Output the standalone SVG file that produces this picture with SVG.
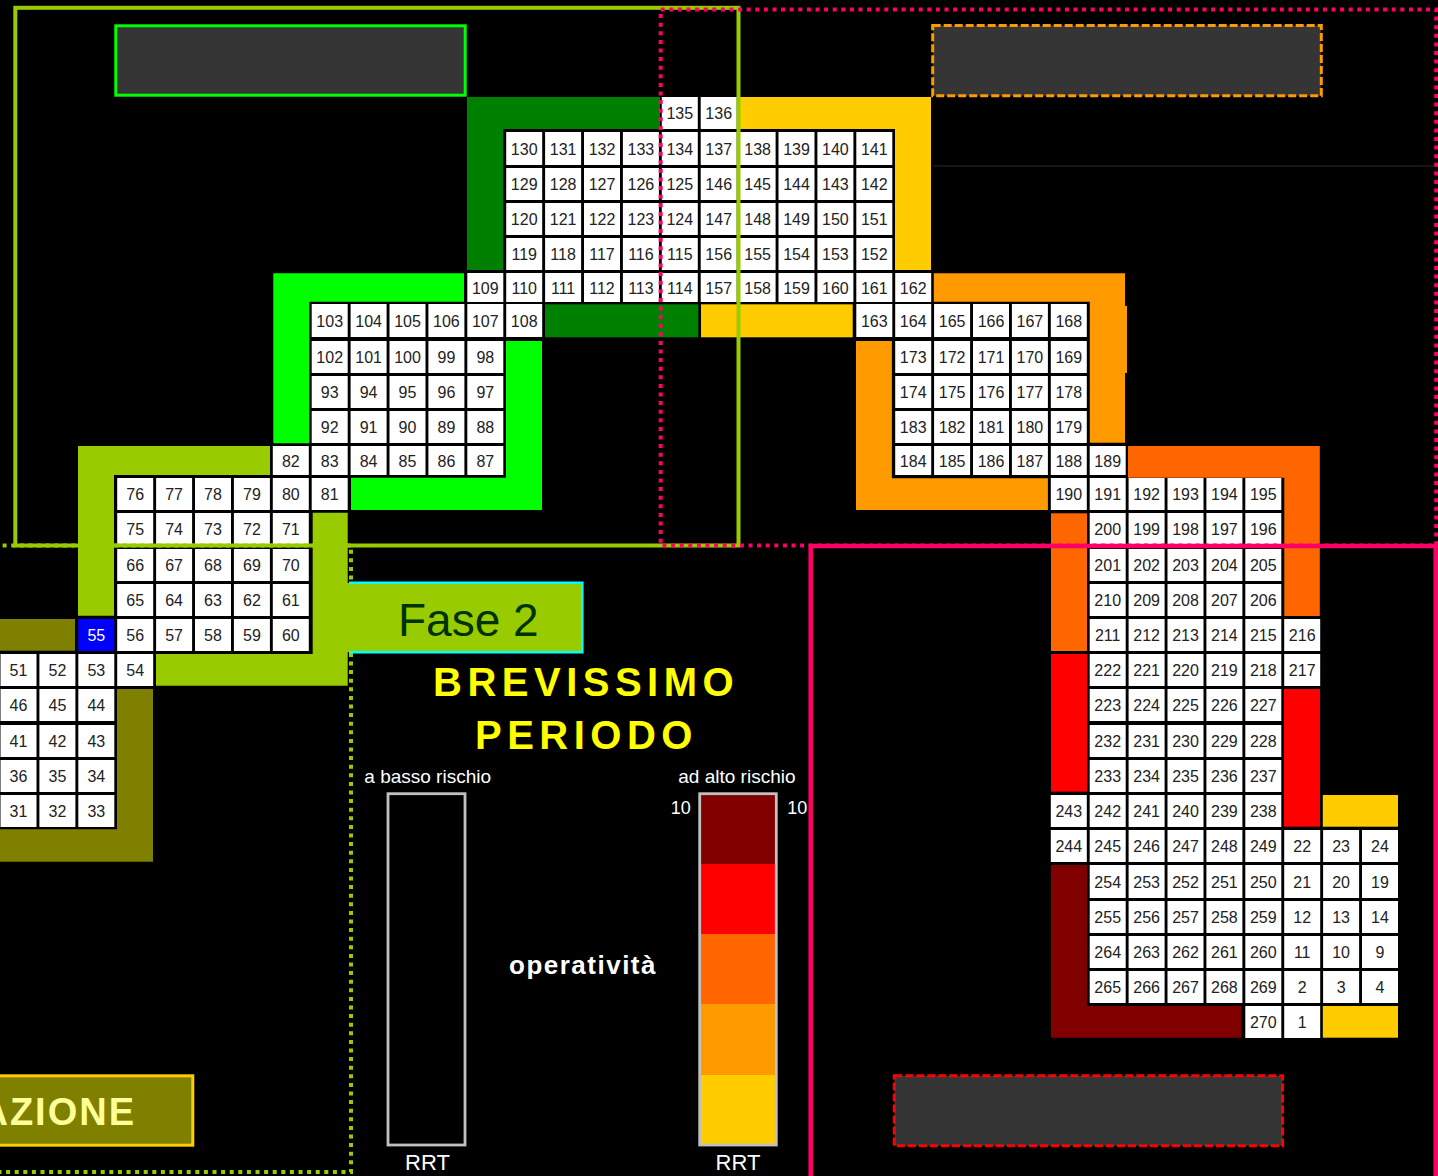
<svg xmlns="http://www.w3.org/2000/svg" width="1438" height="1176" viewBox="0 0 1438 1176">
<style>
.cells rect{fill:#fff}
.cells text{font-family:"Liberation Sans Narrow","Liberation Sans",Arial,sans-serif;font-size:16px;fill:#222;text-anchor:middle}
.lbl{font-family:"Liberation Sans",Arial,sans-serif;fill:#fff}
.big{font-family:"Liberation Sans",Arial,sans-serif;font-weight:bold;font-size:40px;fill:#FFFF00;letter-spacing:5.5px}
.dgreen{fill:#008000}.yel{fill:#FFCC00}.lgreen{fill:#00FF00}.ygreen{fill:#99CC00}.olive{fill:#808000}.orange{fill:#FF9900}.dorange{fill:#FF6600}.red{fill:#FF0000}.dred{fill:#800000}
.dot{fill:none;stroke-width:4;stroke-dasharray:4 4.6}
.dash{fill:#353535;stroke-width:3;stroke-dasharray:8 3}
</style>
<rect width="1438" height="1176" fill="#000"/>
<line x1="933" y1="166" x2="1438" y2="166" stroke="#1c1c1c" stroke-width="1.5"/>

<g id="connectors">
<path class="dgreen" d="M467 97H660V129H503.3V270H467Z"/>
<rect class="dgreen" x="545" y="304.3" width="153.3" height="33"/>
<path class="yel" d="M739 97H931V270H895V129H739Z"/>
<rect class="yel" x="701" y="304.3" width="151.7" height="33"/>
<path class="lgreen" d="M273.3 273.3H464V301.7H309.3V443.3H273.3Z"/>
<path class="lgreen" d="M506 341H542V510H351V477.7H506Z"/>
<path class="ygreen" d="M78 446H270V475H114V615.7H78Z"/>
<path class="ygreen" d="M312.7 512.7H347.7V685.7H156V654H312.7Z"/>
<rect class="olive" x="0" y="619" width="75" height="31.7"/>
<path class="olive" d="M117 689H153V861.7H0V829.3H117Z"/>
<path class="orange" d="M933.8 273.3H1125V442.7H1089.8V301.7H933.8Z"/>
<rect class="orange" x="1124" y="306" width="3" height="67"/>
<path class="orange" d="M856 341H891.9V478.3H1047.9V510H856Z"/>
<path class="dorange" d="M1128 446H1319.8V616H1284.3V477.7H1128Z"/>
<rect class="dorange" x="1051" y="513.3" width="36" height="137.7"/>
<rect class="red" x="1051" y="654" width="36" height="137.7"/>
<rect class="red" x="1284" y="689" width="36" height="137.7"/>
<path class="dred" d="M1051 865H1087V1006H1241.4V1037.7H1051Z"/>
<rect class="yel" x="1322.8" y="795" width="75.2" height="31.7"/>
<rect class="yel" x="1322.8" y="1006" width="75.2" height="31.7"/>
</g>

<g class="cells">
<g transform="translate(0 97)">
<g id="c135" transform="translate(661.8)"><rect width="36" height="32"/><text x="18" y="22">135</text></g>
<g id="c136" transform="translate(700.7)"><rect width="36" height="32"/><text x="18" y="22">136</text></g>
</g>
<g transform="translate(0 132)">
<g id="c130" transform="translate(506.2)"><rect width="36" height="33"/><text x="18" y="22.5">130</text></g>
<g id="c131" transform="translate(545.1)"><rect width="36" height="33"/><text x="18" y="22.5">131</text></g>
<g id="c132" transform="translate(584)"><rect width="36" height="33"/><text x="18" y="22.5">132</text></g>
<g id="c133" transform="translate(622.9)"><rect width="36" height="33"/><text x="18" y="22.5">133</text></g>
<g id="c134" transform="translate(661.8)"><rect width="36" height="33"/><text x="18" y="22.5">134</text></g>
<g id="c137" transform="translate(700.7)"><rect width="36" height="33"/><text x="18" y="22.5">137</text></g>
<g id="c138" transform="translate(739.6)"><rect width="36" height="33"/><text x="18" y="22.5">138</text></g>
<g id="c139" transform="translate(778.5)"><rect width="36" height="33"/><text x="18" y="22.5">139</text></g>
<g id="c140" transform="translate(817.4)"><rect width="36" height="33"/><text x="18" y="22.5">140</text></g>
<g id="c141" transform="translate(856.3)"><rect width="36" height="33"/><text x="18" y="22.5">141</text></g>
</g>
<g transform="translate(0 168)">
<g id="c129" transform="translate(506.2)"><rect width="36" height="32"/><text x="18" y="22">129</text></g>
<g id="c128" transform="translate(545.1)"><rect width="36" height="32"/><text x="18" y="22">128</text></g>
<g id="c127" transform="translate(584)"><rect width="36" height="32"/><text x="18" y="22">127</text></g>
<g id="c126" transform="translate(622.9)"><rect width="36" height="32"/><text x="18" y="22">126</text></g>
<g id="c125" transform="translate(661.8)"><rect width="36" height="32"/><text x="18" y="22">125</text></g>
<g id="c146" transform="translate(700.7)"><rect width="36" height="32"/><text x="18" y="22">146</text></g>
<g id="c145" transform="translate(739.6)"><rect width="36" height="32"/><text x="18" y="22">145</text></g>
<g id="c144" transform="translate(778.5)"><rect width="36" height="32"/><text x="18" y="22">144</text></g>
<g id="c143" transform="translate(817.4)"><rect width="36" height="32"/><text x="18" y="22">143</text></g>
<g id="c142" transform="translate(856.3)"><rect width="36" height="32"/><text x="18" y="22">142</text></g>
</g>
<g transform="translate(0 203)">
<g id="c120" transform="translate(506.2)"><rect width="36" height="32"/><text x="18" y="22">120</text></g>
<g id="c121" transform="translate(545.1)"><rect width="36" height="32"/><text x="18" y="22">121</text></g>
<g id="c122" transform="translate(584)"><rect width="36" height="32"/><text x="18" y="22">122</text></g>
<g id="c123" transform="translate(622.9)"><rect width="36" height="32"/><text x="18" y="22">123</text></g>
<g id="c124" transform="translate(661.8)"><rect width="36" height="32"/><text x="18" y="22">124</text></g>
<g id="c147" transform="translate(700.7)"><rect width="36" height="32"/><text x="18" y="22">147</text></g>
<g id="c148" transform="translate(739.6)"><rect width="36" height="32"/><text x="18" y="22">148</text></g>
<g id="c149" transform="translate(778.5)"><rect width="36" height="32"/><text x="18" y="22">149</text></g>
<g id="c150" transform="translate(817.4)"><rect width="36" height="32"/><text x="18" y="22">150</text></g>
<g id="c151" transform="translate(856.3)"><rect width="36" height="32"/><text x="18" y="22">151</text></g>
</g>
<g transform="translate(0 238)">
<g id="c119" transform="translate(506.2)"><rect width="36" height="32"/><text x="18" y="22">119</text></g>
<g id="c118" transform="translate(545.1)"><rect width="36" height="32"/><text x="18" y="22">118</text></g>
<g id="c117" transform="translate(584)"><rect width="36" height="32"/><text x="18" y="22">117</text></g>
<g id="c116" transform="translate(622.9)"><rect width="36" height="32"/><text x="18" y="22">116</text></g>
<g id="c115" transform="translate(661.8)"><rect width="36" height="32"/><text x="18" y="22">115</text></g>
<g id="c156" transform="translate(700.7)"><rect width="36" height="32"/><text x="18" y="22">156</text></g>
<g id="c155" transform="translate(739.6)"><rect width="36" height="32"/><text x="18" y="22">155</text></g>
<g id="c154" transform="translate(778.5)"><rect width="36" height="32"/><text x="18" y="22">154</text></g>
<g id="c153" transform="translate(817.4)"><rect width="36" height="32"/><text x="18" y="22">153</text></g>
<g id="c152" transform="translate(856.3)"><rect width="36" height="32"/><text x="18" y="22">152</text></g>
</g>
<g transform="translate(0 273)">
<g id="c109" transform="translate(467.3)"><rect width="36" height="29"/><text x="18" y="20.5">109</text></g>
<g id="c110" transform="translate(506.2)"><rect width="36" height="29"/><text x="18" y="20.5">110</text></g>
<g id="c111" transform="translate(545.1)"><rect width="36" height="29"/><text x="18" y="20.5">111</text></g>
<g id="c112" transform="translate(584)"><rect width="36" height="29"/><text x="18" y="20.5">112</text></g>
<g id="c113" transform="translate(622.9)"><rect width="36" height="29"/><text x="18" y="20.5">113</text></g>
<g id="c114" transform="translate(661.8)"><rect width="36" height="29"/><text x="18" y="20.5">114</text></g>
<g id="c157" transform="translate(700.7)"><rect width="36" height="29"/><text x="18" y="20.5">157</text></g>
<g id="c158" transform="translate(739.6)"><rect width="36" height="29"/><text x="18" y="20.5">158</text></g>
<g id="c159" transform="translate(778.5)"><rect width="36" height="29"/><text x="18" y="20.5">159</text></g>
<g id="c160" transform="translate(817.4)"><rect width="36" height="29"/><text x="18" y="20.5">160</text></g>
<g id="c161" transform="translate(856.3)"><rect width="36" height="29"/><text x="18" y="20.5">161</text></g>
<g id="c162" transform="translate(895.2)"><rect width="36" height="29"/><text x="18" y="20.5">162</text></g>
</g>
<g transform="translate(0 304)">
<g id="c103" transform="translate(311.7)"><rect width="36" height="33"/><text x="18" y="22.5">103</text></g>
<g id="c104" transform="translate(350.6)"><rect width="36" height="33"/><text x="18" y="22.5">104</text></g>
<g id="c105" transform="translate(389.5)"><rect width="36" height="33"/><text x="18" y="22.5">105</text></g>
<g id="c106" transform="translate(428.4)"><rect width="36" height="33"/><text x="18" y="22.5">106</text></g>
<g id="c107" transform="translate(467.3)"><rect width="36" height="33"/><text x="18" y="22.5">107</text></g>
<g id="c108" transform="translate(506.2)"><rect width="36" height="33"/><text x="18" y="22.5">108</text></g>
<g id="c163" transform="translate(856.3)"><rect width="36" height="33"/><text x="18" y="22.5">163</text></g>
<g id="c164" transform="translate(895.2)"><rect width="36" height="33"/><text x="18" y="22.5">164</text></g>
<g id="c165" transform="translate(934.1)"><rect width="36" height="33"/><text x="18" y="22.5">165</text></g>
<g id="c166" transform="translate(973)"><rect width="36" height="33"/><text x="18" y="22.5">166</text></g>
<g id="c167" transform="translate(1011.9)"><rect width="36" height="33"/><text x="18" y="22.5">167</text></g>
<g id="c168" transform="translate(1050.8)"><rect width="36" height="33"/><text x="18" y="22.5">168</text></g>
</g>
<g transform="translate(0 341)">
<g id="c102" transform="translate(311.7)"><rect width="36" height="32"/><text x="18" y="22">102</text></g>
<g id="c101" transform="translate(350.6)"><rect width="36" height="32"/><text x="18" y="22">101</text></g>
<g id="c100" transform="translate(389.5)"><rect width="36" height="32"/><text x="18" y="22">100</text></g>
<g id="c99" transform="translate(428.4)"><rect width="36" height="32"/><text x="18" y="22">99</text></g>
<g id="c98" transform="translate(467.3)"><rect width="36" height="32"/><text x="18" y="22">98</text></g>
<g id="c173" transform="translate(895.2)"><rect width="36" height="32"/><text x="18" y="22">173</text></g>
<g id="c172" transform="translate(934.1)"><rect width="36" height="32"/><text x="18" y="22">172</text></g>
<g id="c171" transform="translate(973)"><rect width="36" height="32"/><text x="18" y="22">171</text></g>
<g id="c170" transform="translate(1011.9)"><rect width="36" height="32"/><text x="18" y="22">170</text></g>
<g id="c169" transform="translate(1050.8)"><rect width="36" height="32"/><text x="18" y="22">169</text></g>
</g>
<g transform="translate(0 376)">
<g id="c93" transform="translate(311.7)"><rect width="36" height="32"/><text x="18" y="22">93</text></g>
<g id="c94" transform="translate(350.6)"><rect width="36" height="32"/><text x="18" y="22">94</text></g>
<g id="c95" transform="translate(389.5)"><rect width="36" height="32"/><text x="18" y="22">95</text></g>
<g id="c96" transform="translate(428.4)"><rect width="36" height="32"/><text x="18" y="22">96</text></g>
<g id="c97" transform="translate(467.3)"><rect width="36" height="32"/><text x="18" y="22">97</text></g>
<g id="c174" transform="translate(895.2)"><rect width="36" height="32"/><text x="18" y="22">174</text></g>
<g id="c175" transform="translate(934.1)"><rect width="36" height="32"/><text x="18" y="22">175</text></g>
<g id="c176" transform="translate(973)"><rect width="36" height="32"/><text x="18" y="22">176</text></g>
<g id="c177" transform="translate(1011.9)"><rect width="36" height="32"/><text x="18" y="22">177</text></g>
<g id="c178" transform="translate(1050.8)"><rect width="36" height="32"/><text x="18" y="22">178</text></g>
</g>
<g transform="translate(0 411)">
<g id="c92" transform="translate(311.7)"><rect width="36" height="32"/><text x="18" y="22">92</text></g>
<g id="c91" transform="translate(350.6)"><rect width="36" height="32"/><text x="18" y="22">91</text></g>
<g id="c90" transform="translate(389.5)"><rect width="36" height="32"/><text x="18" y="22">90</text></g>
<g id="c89" transform="translate(428.4)"><rect width="36" height="32"/><text x="18" y="22">89</text></g>
<g id="c88" transform="translate(467.3)"><rect width="36" height="32"/><text x="18" y="22">88</text></g>
<g id="c183" transform="translate(895.2)"><rect width="36" height="32"/><text x="18" y="22">183</text></g>
<g id="c182" transform="translate(934.1)"><rect width="36" height="32"/><text x="18" y="22">182</text></g>
<g id="c181" transform="translate(973)"><rect width="36" height="32"/><text x="18" y="22">181</text></g>
<g id="c180" transform="translate(1011.9)"><rect width="36" height="32"/><text x="18" y="22">180</text></g>
<g id="c179" transform="translate(1050.8)"><rect width="36" height="32"/><text x="18" y="22">179</text></g>
</g>
<g transform="translate(0 446)">
<g id="c82" transform="translate(272.8)"><rect width="36" height="29"/><text x="18" y="20.5">82</text></g>
<g id="c83" transform="translate(311.7)"><rect width="36" height="29"/><text x="18" y="20.5">83</text></g>
<g id="c84" transform="translate(350.6)"><rect width="36" height="29"/><text x="18" y="20.5">84</text></g>
<g id="c85" transform="translate(389.5)"><rect width="36" height="29"/><text x="18" y="20.5">85</text></g>
<g id="c86" transform="translate(428.4)"><rect width="36" height="29"/><text x="18" y="20.5">86</text></g>
<g id="c87" transform="translate(467.3)"><rect width="36" height="29"/><text x="18" y="20.5">87</text></g>
<g id="c184" transform="translate(895.2)"><rect width="36" height="29"/><text x="18" y="20.5">184</text></g>
<g id="c185" transform="translate(934.1)"><rect width="36" height="29"/><text x="18" y="20.5">185</text></g>
<g id="c186" transform="translate(973)"><rect width="36" height="29"/><text x="18" y="20.5">186</text></g>
<g id="c187" transform="translate(1011.9)"><rect width="36" height="29"/><text x="18" y="20.5">187</text></g>
<g id="c188" transform="translate(1050.8)"><rect width="36" height="29"/><text x="18" y="20.5">188</text></g>
<g id="c189" transform="translate(1089.7)"><rect width="36" height="29"/><text x="18" y="20.5">189</text></g>
</g>
<g transform="translate(0 478)">
<g id="c76" transform="translate(117.2)"><rect width="36" height="32"/><text x="18" y="22">76</text></g>
<g id="c77" transform="translate(156.1)"><rect width="36" height="32"/><text x="18" y="22">77</text></g>
<g id="c78" transform="translate(195)"><rect width="36" height="32"/><text x="18" y="22">78</text></g>
<g id="c79" transform="translate(233.9)"><rect width="36" height="32"/><text x="18" y="22">79</text></g>
<g id="c80" transform="translate(272.8)"><rect width="36" height="32"/><text x="18" y="22">80</text></g>
<g id="c81" transform="translate(311.7)"><rect width="36" height="32"/><text x="18" y="22">81</text></g>
<g id="c190" transform="translate(1050.8)"><rect width="36" height="32"/><text x="18" y="22">190</text></g>
<g id="c191" transform="translate(1089.7)"><rect width="36" height="32"/><text x="18" y="22">191</text></g>
<g id="c192" transform="translate(1128.6)"><rect width="36" height="32"/><text x="18" y="22">192</text></g>
<g id="c193" transform="translate(1167.5)"><rect width="36" height="32"/><text x="18" y="22">193</text></g>
<g id="c194" transform="translate(1206.4)"><rect width="36" height="32"/><text x="18" y="22">194</text></g>
<g id="c195" transform="translate(1245.3)"><rect width="36" height="32"/><text x="18" y="22">195</text></g>
</g>
<g transform="translate(0 513)">
<g id="c75" transform="translate(117.2)"><rect width="36" height="31"/><text x="18" y="21.5">75</text></g>
<g id="c74" transform="translate(156.1)"><rect width="36" height="31"/><text x="18" y="21.5">74</text></g>
<g id="c73" transform="translate(195)"><rect width="36" height="31"/><text x="18" y="21.5">73</text></g>
<g id="c72" transform="translate(233.9)"><rect width="36" height="31"/><text x="18" y="21.5">72</text></g>
<g id="c71" transform="translate(272.8)"><rect width="36" height="31"/><text x="18" y="21.5">71</text></g>
<g id="c200" transform="translate(1089.7)"><rect width="36" height="31"/><text x="18" y="21.5">200</text></g>
<g id="c199" transform="translate(1128.6)"><rect width="36" height="31"/><text x="18" y="21.5">199</text></g>
<g id="c198" transform="translate(1167.5)"><rect width="36" height="31"/><text x="18" y="21.5">198</text></g>
<g id="c197" transform="translate(1206.4)"><rect width="36" height="31"/><text x="18" y="21.5">197</text></g>
<g id="c196" transform="translate(1245.3)"><rect width="36" height="31"/><text x="18" y="21.5">196</text></g>
</g>
<g transform="translate(0 549)">
<g id="c66" transform="translate(117.2)"><rect width="36" height="32"/><text x="18" y="22">66</text></g>
<g id="c67" transform="translate(156.1)"><rect width="36" height="32"/><text x="18" y="22">67</text></g>
<g id="c68" transform="translate(195)"><rect width="36" height="32"/><text x="18" y="22">68</text></g>
<g id="c69" transform="translate(233.9)"><rect width="36" height="32"/><text x="18" y="22">69</text></g>
<g id="c70" transform="translate(272.8)"><rect width="36" height="32"/><text x="18" y="22">70</text></g>
<g id="c201" transform="translate(1089.7)"><rect width="36" height="32"/><text x="18" y="22">201</text></g>
<g id="c202" transform="translate(1128.6)"><rect width="36" height="32"/><text x="18" y="22">202</text></g>
<g id="c203" transform="translate(1167.5)"><rect width="36" height="32"/><text x="18" y="22">203</text></g>
<g id="c204" transform="translate(1206.4)"><rect width="36" height="32"/><text x="18" y="22">204</text></g>
<g id="c205" transform="translate(1245.3)"><rect width="36" height="32"/><text x="18" y="22">205</text></g>
</g>
<g transform="translate(0 584)">
<g id="c65" transform="translate(117.2)"><rect width="36" height="32"/><text x="18" y="22">65</text></g>
<g id="c64" transform="translate(156.1)"><rect width="36" height="32"/><text x="18" y="22">64</text></g>
<g id="c63" transform="translate(195)"><rect width="36" height="32"/><text x="18" y="22">63</text></g>
<g id="c62" transform="translate(233.9)"><rect width="36" height="32"/><text x="18" y="22">62</text></g>
<g id="c61" transform="translate(272.8)"><rect width="36" height="32"/><text x="18" y="22">61</text></g>
<g id="c210" transform="translate(1089.7)"><rect width="36" height="32"/><text x="18" y="22">210</text></g>
<g id="c209" transform="translate(1128.6)"><rect width="36" height="32"/><text x="18" y="22">209</text></g>
<g id="c208" transform="translate(1167.5)"><rect width="36" height="32"/><text x="18" y="22">208</text></g>
<g id="c207" transform="translate(1206.4)"><rect width="36" height="32"/><text x="18" y="22">207</text></g>
<g id="c206" transform="translate(1245.3)"><rect width="36" height="32"/><text x="18" y="22">206</text></g>
</g>
<g transform="translate(0 619)">
<g id="c55" transform="translate(78.3)"><rect width="36" height="32" style="fill:#0000FF"/><text x="18" y="22" style="fill:#fff">55</text></g>
<g id="c56" transform="translate(117.2)"><rect width="36" height="32"/><text x="18" y="22">56</text></g>
<g id="c57" transform="translate(156.1)"><rect width="36" height="32"/><text x="18" y="22">57</text></g>
<g id="c58" transform="translate(195)"><rect width="36" height="32"/><text x="18" y="22">58</text></g>
<g id="c59" transform="translate(233.9)"><rect width="36" height="32"/><text x="18" y="22">59</text></g>
<g id="c60" transform="translate(272.8)"><rect width="36" height="32"/><text x="18" y="22">60</text></g>
<g id="c211" transform="translate(1089.7)"><rect width="36" height="32"/><text x="18" y="22">211</text></g>
<g id="c212" transform="translate(1128.6)"><rect width="36" height="32"/><text x="18" y="22">212</text></g>
<g id="c213" transform="translate(1167.5)"><rect width="36" height="32"/><text x="18" y="22">213</text></g>
<g id="c214" transform="translate(1206.4)"><rect width="36" height="32"/><text x="18" y="22">214</text></g>
<g id="c215" transform="translate(1245.3)"><rect width="36" height="32"/><text x="18" y="22">215</text></g>
<g id="c216" transform="translate(1284.2)"><rect width="36" height="32"/><text x="18" y="22">216</text></g>
</g>
<g transform="translate(0 654)">
<g id="c51" transform="translate(0.5)"><rect width="36" height="32"/><text x="18" y="22">51</text></g>
<g id="c52" transform="translate(39.4)"><rect width="36" height="32"/><text x="18" y="22">52</text></g>
<g id="c53" transform="translate(78.3)"><rect width="36" height="32"/><text x="18" y="22">53</text></g>
<g id="c54" transform="translate(117.2)"><rect width="36" height="32"/><text x="18" y="22">54</text></g>
<g id="c222" transform="translate(1089.7)"><rect width="36" height="32"/><text x="18" y="22">222</text></g>
<g id="c221" transform="translate(1128.6)"><rect width="36" height="32"/><text x="18" y="22">221</text></g>
<g id="c220" transform="translate(1167.5)"><rect width="36" height="32"/><text x="18" y="22">220</text></g>
<g id="c219" transform="translate(1206.4)"><rect width="36" height="32"/><text x="18" y="22">219</text></g>
<g id="c218" transform="translate(1245.3)"><rect width="36" height="32"/><text x="18" y="22">218</text></g>
<g id="c217" transform="translate(1284.2)"><rect width="36" height="32"/><text x="18" y="22">217</text></g>
</g>
<g transform="translate(0 689)">
<g id="c46" transform="translate(0.5)"><rect width="36" height="32"/><text x="18" y="22">46</text></g>
<g id="c45" transform="translate(39.4)"><rect width="36" height="32"/><text x="18" y="22">45</text></g>
<g id="c44" transform="translate(78.3)"><rect width="36" height="32"/><text x="18" y="22">44</text></g>
<g id="c223" transform="translate(1089.7)"><rect width="36" height="32"/><text x="18" y="22">223</text></g>
<g id="c224" transform="translate(1128.6)"><rect width="36" height="32"/><text x="18" y="22">224</text></g>
<g id="c225" transform="translate(1167.5)"><rect width="36" height="32"/><text x="18" y="22">225</text></g>
<g id="c226" transform="translate(1206.4)"><rect width="36" height="32"/><text x="18" y="22">226</text></g>
<g id="c227" transform="translate(1245.3)"><rect width="36" height="32"/><text x="18" y="22">227</text></g>
</g>
<g transform="translate(0 725)">
<g id="c41" transform="translate(0.5)"><rect width="36" height="32"/><text x="18" y="22">41</text></g>
<g id="c42" transform="translate(39.4)"><rect width="36" height="32"/><text x="18" y="22">42</text></g>
<g id="c43" transform="translate(78.3)"><rect width="36" height="32"/><text x="18" y="22">43</text></g>
<g id="c232" transform="translate(1089.7)"><rect width="36" height="32"/><text x="18" y="22">232</text></g>
<g id="c231" transform="translate(1128.6)"><rect width="36" height="32"/><text x="18" y="22">231</text></g>
<g id="c230" transform="translate(1167.5)"><rect width="36" height="32"/><text x="18" y="22">230</text></g>
<g id="c229" transform="translate(1206.4)"><rect width="36" height="32"/><text x="18" y="22">229</text></g>
<g id="c228" transform="translate(1245.3)"><rect width="36" height="32"/><text x="18" y="22">228</text></g>
</g>
<g transform="translate(0 760)">
<g id="c36" transform="translate(0.5)"><rect width="36" height="32"/><text x="18" y="22">36</text></g>
<g id="c35" transform="translate(39.4)"><rect width="36" height="32"/><text x="18" y="22">35</text></g>
<g id="c34" transform="translate(78.3)"><rect width="36" height="32"/><text x="18" y="22">34</text></g>
<g id="c233" transform="translate(1089.7)"><rect width="36" height="32"/><text x="18" y="22">233</text></g>
<g id="c234" transform="translate(1128.6)"><rect width="36" height="32"/><text x="18" y="22">234</text></g>
<g id="c235" transform="translate(1167.5)"><rect width="36" height="32"/><text x="18" y="22">235</text></g>
<g id="c236" transform="translate(1206.4)"><rect width="36" height="32"/><text x="18" y="22">236</text></g>
<g id="c237" transform="translate(1245.3)"><rect width="36" height="32"/><text x="18" y="22">237</text></g>
</g>
<g transform="translate(0 795)">
<g id="c31" transform="translate(0.5)"><rect width="36" height="32"/><text x="18" y="22">31</text></g>
<g id="c32" transform="translate(39.4)"><rect width="36" height="32"/><text x="18" y="22">32</text></g>
<g id="c33" transform="translate(78.3)"><rect width="36" height="32"/><text x="18" y="22">33</text></g>
<g id="c243" transform="translate(1050.8)"><rect width="36" height="32"/><text x="18" y="22">243</text></g>
<g id="c242" transform="translate(1089.7)"><rect width="36" height="32"/><text x="18" y="22">242</text></g>
<g id="c241" transform="translate(1128.6)"><rect width="36" height="32"/><text x="18" y="22">241</text></g>
<g id="c240" transform="translate(1167.5)"><rect width="36" height="32"/><text x="18" y="22">240</text></g>
<g id="c239" transform="translate(1206.4)"><rect width="36" height="32"/><text x="18" y="22">239</text></g>
<g id="c238" transform="translate(1245.3)"><rect width="36" height="32"/><text x="18" y="22">238</text></g>
</g>
<g transform="translate(0 830)">
<g id="c244" transform="translate(1050.8)"><rect width="36" height="32"/><text x="18" y="22">244</text></g>
<g id="c245" transform="translate(1089.7)"><rect width="36" height="32"/><text x="18" y="22">245</text></g>
<g id="c246" transform="translate(1128.6)"><rect width="36" height="32"/><text x="18" y="22">246</text></g>
<g id="c247" transform="translate(1167.5)"><rect width="36" height="32"/><text x="18" y="22">247</text></g>
<g id="c248" transform="translate(1206.4)"><rect width="36" height="32"/><text x="18" y="22">248</text></g>
<g id="c249" transform="translate(1245.3)"><rect width="36" height="32"/><text x="18" y="22">249</text></g>
<g id="c22" transform="translate(1284.2)"><rect width="36" height="32"/><text x="18" y="22">22</text></g>
<g id="c23" transform="translate(1323.1)"><rect width="36" height="32"/><text x="18" y="22">23</text></g>
<g id="c24" transform="translate(1362)"><rect width="36" height="32"/><text x="18" y="22">24</text></g>
</g>
<g transform="translate(0 865)">
<g id="c254" transform="translate(1089.7)"><rect width="36" height="33"/><text x="18" y="22.5">254</text></g>
<g id="c253" transform="translate(1128.6)"><rect width="36" height="33"/><text x="18" y="22.5">253</text></g>
<g id="c252" transform="translate(1167.5)"><rect width="36" height="33"/><text x="18" y="22.5">252</text></g>
<g id="c251" transform="translate(1206.4)"><rect width="36" height="33"/><text x="18" y="22.5">251</text></g>
<g id="c250" transform="translate(1245.3)"><rect width="36" height="33"/><text x="18" y="22.5">250</text></g>
<g id="c21" transform="translate(1284.2)"><rect width="36" height="33"/><text x="18" y="22.5">21</text></g>
<g id="c20" transform="translate(1323.1)"><rect width="36" height="33"/><text x="18" y="22.5">20</text></g>
<g id="c19" transform="translate(1362)"><rect width="36" height="33"/><text x="18" y="22.5">19</text></g>
</g>
<g transform="translate(0 901)">
<g id="c255" transform="translate(1089.7)"><rect width="36" height="32"/><text x="18" y="22">255</text></g>
<g id="c256" transform="translate(1128.6)"><rect width="36" height="32"/><text x="18" y="22">256</text></g>
<g id="c257" transform="translate(1167.5)"><rect width="36" height="32"/><text x="18" y="22">257</text></g>
<g id="c258" transform="translate(1206.4)"><rect width="36" height="32"/><text x="18" y="22">258</text></g>
<g id="c259" transform="translate(1245.3)"><rect width="36" height="32"/><text x="18" y="22">259</text></g>
<g id="c12" transform="translate(1284.2)"><rect width="36" height="32"/><text x="18" y="22">12</text></g>
<g id="c13" transform="translate(1323.1)"><rect width="36" height="32"/><text x="18" y="22">13</text></g>
<g id="c14" transform="translate(1362)"><rect width="36" height="32"/><text x="18" y="22">14</text></g>
</g>
<g transform="translate(0 936)">
<g id="c264" transform="translate(1089.7)"><rect width="36" height="32"/><text x="18" y="22">264</text></g>
<g id="c263" transform="translate(1128.6)"><rect width="36" height="32"/><text x="18" y="22">263</text></g>
<g id="c262" transform="translate(1167.5)"><rect width="36" height="32"/><text x="18" y="22">262</text></g>
<g id="c261" transform="translate(1206.4)"><rect width="36" height="32"/><text x="18" y="22">261</text></g>
<g id="c260" transform="translate(1245.3)"><rect width="36" height="32"/><text x="18" y="22">260</text></g>
<g id="c11" transform="translate(1284.2)"><rect width="36" height="32"/><text x="18" y="22">11</text></g>
<g id="c10" transform="translate(1323.1)"><rect width="36" height="32"/><text x="18" y="22">10</text></g>
<g id="c9" transform="translate(1362)"><rect width="36" height="32"/><text x="18" y="22">9</text></g>
</g>
<g transform="translate(0 971)">
<g id="c265" transform="translate(1089.7)"><rect width="36" height="32"/><text x="18" y="22">265</text></g>
<g id="c266" transform="translate(1128.6)"><rect width="36" height="32"/><text x="18" y="22">266</text></g>
<g id="c267" transform="translate(1167.5)"><rect width="36" height="32"/><text x="18" y="22">267</text></g>
<g id="c268" transform="translate(1206.4)"><rect width="36" height="32"/><text x="18" y="22">268</text></g>
<g id="c269" transform="translate(1245.3)"><rect width="36" height="32"/><text x="18" y="22">269</text></g>
<g id="c2" transform="translate(1284.2)"><rect width="36" height="32"/><text x="18" y="22">2</text></g>
<g id="c3" transform="translate(1323.1)"><rect width="36" height="32"/><text x="18" y="22">3</text></g>
<g id="c4" transform="translate(1362)"><rect width="36" height="32"/><text x="18" y="22">4</text></g>
</g>
<g transform="translate(0 1006)">
<g id="c270" transform="translate(1245.3)"><rect width="36" height="32"/><text x="18" y="22">270</text></g>
<g id="c1" transform="translate(1284.2)"><rect width="36" height="32"/><text x="18" y="22">1</text></g>
</g>
</g>

<g id="frames">
<path class="dot" stroke="#99CC00" d="M-6 545.5H351V1172H-6"/>
<rect x="15.3" y="7.8" width="723.2" height="537.7" fill="none" stroke="#99CC00" stroke-width="4"/>
<rect class="dot" stroke="#FF0066" x="660.7" y="9.5" width="775.5" height="536"/>
<rect x="810.7" y="546" width="625" height="1126.5" fill="none" stroke="#FF0066" stroke-width="4.5"/>
</g>

<g id="fase2">
<rect x="347" y="583" width="235" height="69" fill="#99CC00"/>
<path d="M349 582.8H582.3V652.2H349" fill="none" stroke="#00FFFF" stroke-width="2.5"/>
<text x="398" y="635.7" font-family="Liberation Sans, Arial, sans-serif" font-size="46" fill="#003300">Fase 2</text>
</g>

<g id="box-green"><rect x="115.8" y="25.8" width="349.4" height="69.4" fill="#353535" stroke="#00FF00" stroke-width="3"/></g>
<g id="box-orange"><rect class="dash" stroke="#FF9900" x="932.7" y="25.5" width="388.6" height="70.3"/></g>
<g id="box-red"><rect class="dash" stroke="#FF0000" x="894.3" y="1075.8" width="388.3" height="70"/></g>

<g id="azione">
<rect x="-5" y="1075.8" width="197.8" height="69.4" fill="#808000" stroke="#FFCC00" stroke-width="3"/>
<text x="136" y="1125" text-anchor="end" font-family="Liberation Sans, Arial, sans-serif" font-weight="bold" font-size="38" letter-spacing="2" fill="#FFFF99">AZIONE</text>
</g>

<g id="title">
<text class="big" x="433" y="696">BREVISSIMO</text>
<text class="big" x="475" y="749">PERIODO</text>
</g>

<g id="gauge-low">
<text class="lbl" x="364.3" y="783" font-size="19">a basso rischio</text>
<rect x="388" y="793.7" width="77" height="351.3" fill="none" stroke="#C0C0C0" stroke-width="2.8"/>
<text class="lbl" x="427.5" y="1170" font-size="22" text-anchor="middle">RRT</text>
</g>

<g id="gauge-high">
<text class="lbl" x="678.3" y="783" font-size="19">ad alto rischio</text>
<rect x="701" y="795" width="74" height="69" fill="#800000"/>
<rect x="701" y="864" width="74" height="70" fill="#FF0000"/>
<rect x="701" y="934" width="74" height="70" fill="#FF6600"/>
<rect x="701" y="1004" width="74" height="71" fill="#FF9900"/>
<rect x="701" y="1075" width="74" height="70" fill="#FFCC00"/>
<rect x="699.7" y="793.7" width="76.6" height="351.3" fill="none" stroke="#C0C0C0" stroke-width="2.8"/>
<text class="lbl" x="670.7" y="813.5" font-size="18">10</text>
<text class="lbl" x="787.3" y="813.5" font-size="18">10</text>
<text class="lbl" x="738" y="1170" font-size="22" text-anchor="middle">RRT</text>
</g>

<g id="operativita">
<text class="lbl" x="509" y="974.3" font-size="26" font-weight="bold" letter-spacing="1.5">operatività</text>
</g>
</svg>
